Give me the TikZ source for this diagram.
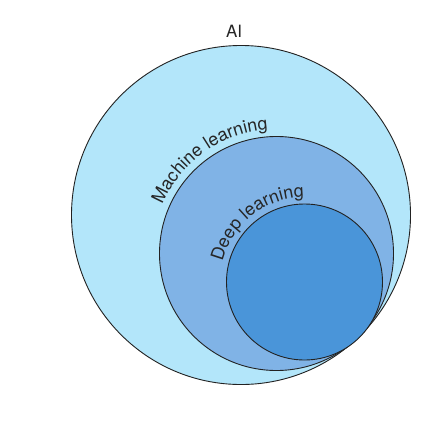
\documentclass[tikz,border=0pt]{standalone}
\usepackage{fontspec}
\setmainfont{TeX Gyre Heros}
\usetikzlibrary{decorations.text,calc}
\definecolor{aiblue}{HTML}{B3E6FA}
\definecolor{mlblue}{HTML}{80B3E6}
\definecolor{dlblue}{HTML}{4A95D9}
\definecolor{edge}{HTML}{222222}
\newcommand{\lblfont}{\fontsize{17}{20}\selectfont}
\newcommand{\arcfont}{\fontsize{18}{21}\selectfont}
\tikzset{
  setcircle/.style={draw=edge, line width=0.9bp},
  arclabel/.style={decorate, decoration={text along path, text align=left, text color=black!85}}
}
\begin{document}
\begin{tikzpicture}[x=1bp,y=1bp]
\useasboundingbox[fill=white] (0,0) rectangle (441,429);
\coordinate (cAI) at (241,214);
\coordinate (cML) at (276.5,175.5);
\coordinate (cDL) at (304.5,147);
\fill[aiblue] (cAI) circle[radius=169.5bp];
\draw[setcircle] (cAI) circle[radius=169.5bp];
\fill[mlblue] (cML) circle[radius=117bp];
\draw[setcircle] (cML) circle[radius=117bp];
\fill[dlblue] (cDL) circle[radius=78bp];
\draw[setcircle] (cDL) circle[radius=78bp];
\node[anchor=base, font=\lblfont, text=black!85] (ai) at (234,391) {AI};
\path[arclabel, decoration={text={|\arcfont|Machine learning}}]
  ($(cML)+(157:124)$) arc[start angle=157, end angle=30, radius=124bp];
\path[arclabel, decoration={text={|\arcfont|Deep learning}}]
  ($(cDL)+(166:84.5)$) arc[start angle=166, end angle=20, radius=84.5bp];
\end{tikzpicture}
\end{document}
